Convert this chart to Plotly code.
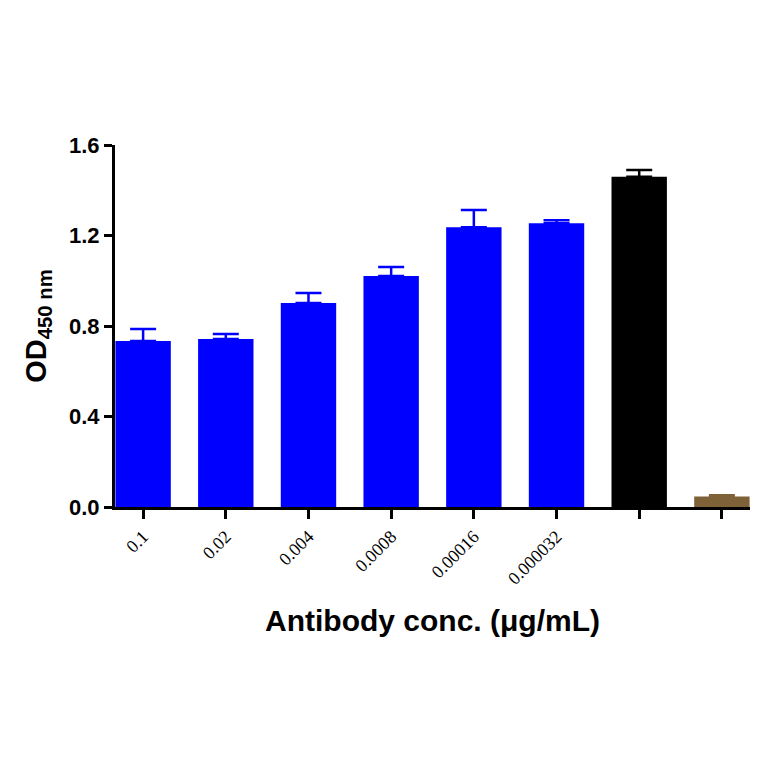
import plotly.graph_objects as go

# concentrations (last two groups have no tick label)
conc_labels = ["0.1", "0.02", "0.004", "0.0008", "0.00016", "0.000032", "", ""]
blue_od = [0.734, 0.743, 0.902, 1.021, 1.236, 1.254]
blue_err = [0.053, 0.022, 0.044, 0.040, 0.077, 0.013]
black_od = [1.46]
black_err = [0.03]
brown_od = [0.046]
brown_err = [0.006]

idx = list(range(len(conc_labels)))

fig = go.Figure()


def add_bars(xs, ys, errs, color):
    fig.add_trace(go.Bar(
        x=xs, y=ys, width=0.67,
        marker=dict(color=color, line=dict(width=0)),
        error_y=dict(type="data", symmetric=False, array=errs,
                     arrayminus=[0] * len(errs), color=color,
                     thickness=2.5, width=13),
        showlegend=False,
    ))


add_bars(idx[:6], blue_od, blue_err, "#0000FF")
add_bars(idx[6:7], black_od, black_err, "#000000")
add_bars(idx[7:8], brown_od, brown_err, "#7F6138")

# page body has an 8px margin, so the figure is 756 and margins are shifted
fig.update_layout(
    width=756, height=756,
    margin=dict(l=107, r=14, t=137, b=257),
    plot_bgcolor="white", paper_bgcolor="white",
    barmode="overlay",
    font=dict(family="Liberation Sans, Arial", color="black"),
)

fig.update_xaxes(
    range=[-0.34, 7.34],
    tickmode="array", tickvals=idx, ticktext=conc_labels,
    tickangle=-45,
    tickfont=dict(family="Liberation Serif, Times New Roman", size=18),
    ticks="outside", ticklen=9, tickwidth=2.5, tickcolor="black",
    showline=True, linecolor="black", linewidth=3,
    showgrid=False, zeroline=False,
    title=dict(text="<b>Antibody conc. (μg/mL)</b>", standoff=23,
               font=dict(size=30, family="Liberation Sans, Arial")),
)

fig.update_yaxes(
    range=[0, 1.6],
    tickmode="array", tickvals=[0, 0.4, 0.8, 1.2, 1.6],
    ticktext=["<b>0.0</b>", "<b>0.4</b>", "<b>0.8</b>", "<b>1.2</b>", "<b>1.6</b>"],
    tickfont=dict(size=22),
    ticks="outside", ticklen=8, tickwidth=2.5, tickcolor="black",
    showline=True, linecolor="black", linewidth=3,
    showgrid=False, zeroline=False,
    title=dict(text="<b>OD<sub>450 nm</sub></b>", standoff=14,
               font=dict(size=29, family="Liberation Sans, Arial")),
)

fig.write_html("out.html")
